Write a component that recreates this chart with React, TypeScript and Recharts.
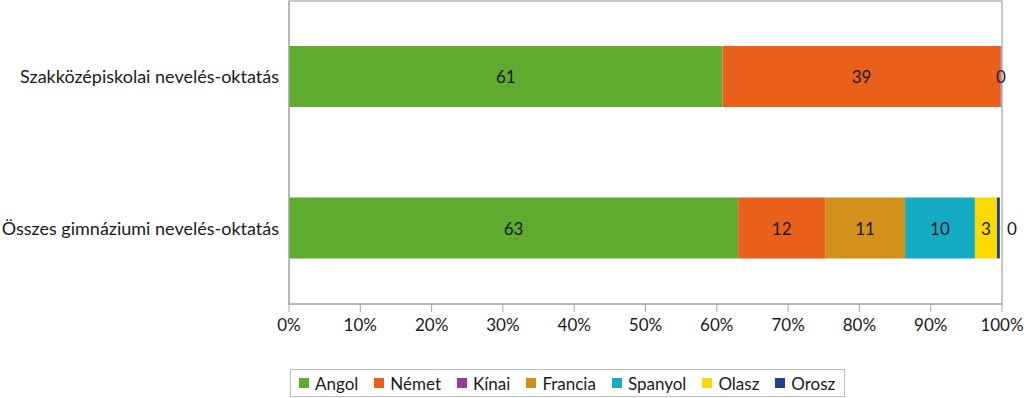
import React from "react";
import {
  BarChart,
  Bar,
  XAxis,
  YAxis,
  Legend,
  LabelList,
  ReferenceArea,
} from "recharts";

const categories = [
  "Szakközépiskolai nevelés-oktatás",
  "Összes gimnáziumi nevelés-oktatás",
];
const angol = [60.8, 63.0];
const nemet = [39.0, 12.2];
const kinai = [0.1, 0];
const francia = [0, 11.2];
const spanyol = [0, 9.8];
const olasz = [0, 3.1];
const orosz = [0, 0.4];
const xTicks = [0, 10, 20, 30, 40, 50, 60, 70, 80, 90, 100];

const series = [
  { key: "Angol", values: angol, color: "#5eab2f" },
  { key: "Német", values: nemet, color: "#e8601a" },
  { key: "Kínai", values: kinai, color: "#9c3c98" },
  { key: "Francia", values: francia, color: "#d1911a" },
  { key: "Spanyol", values: spanyol, color: "#14abc4" },
  { key: "Olasz", values: olasz, color: "#fcd900" },
  { key: "Orosz", values: orosz, color: "#213f91" },
];

const data = categories.map((name, i) => {
  const row: Record<string, string | number> = { name };
  series.forEach((s) => (row[s.key] = s.values[i]));
  return row;
});

const FONT = "Lato, 'Open Sans', sans-serif";

// címke a szegmens közepén; az orosz a sáv végén kívül
const makeLabel = (outside: boolean) => (props: any) => {
  const { x, y, width, height, value } = props;
  if (!value) return null;
  const cx = outside ? x + width + 12 : x + width / 2;
  return (
    <text
      x={cx}
      y={y + height / 2}
      textAnchor="middle"
      dominantBaseline="central"
      fontSize={17}
      fontFamily={FONT}
      fill="#1a1a1a"
    >
      {Math.round(value)}
    </text>
  );
};

const LegendBox = () => (
  <div
    style={{
      display: "flex",
      alignItems: "center",
      gap: 16,
      border: "1px solid #bdbdbd",
      height: 28,
      width: 555,
      boxSizing: "border-box",
      paddingLeft: 8,
      fontFamily: FONT,
      fontSize: 17,
      color: "#1a1a1a",
    }}
  >
    {series.map((s) => (
      <span key={s.key} style={{ display: "flex", alignItems: "center" }}>
        <span
          style={{
            width: 10,
            height: 10,
            background: s.color,
            display: "inline-block",
            marginRight: 6,
          }}
        />
        {s.key}
      </span>
    ))}
  </div>
);

export default function App() {
  return (
    <div style={{ position: "absolute", left: 0, top: 0, background: "#fff" }}>
      <BarChart
        width={1024}
        height={398}
        data={data}
        layout="vertical"
        margin={{ top: 1, right: 22, left: 0, bottom: 16 }}
      >
        <ReferenceArea
          x1={0}
          x2={100}
          stroke="#b5b5b5"
          strokeWidth={1.5}
          fill="none"
          fillOpacity={0}
        />
        <XAxis
          type="number"
          domain={[0, 100]}
          ticks={xTicks}
          tickFormatter={(v) => `${v}%`}
          tickSize={8}
          tickMargin={7}
          height={50}
          stroke="#a8a8a8"
          tick={{ fontSize: 17, fill: "#1a1a1a", fontFamily: FONT }}
          interval={0}
        />
        <YAxis
          type="category"
          dataKey="name"
          width={289}
          tickSize={0}
          tickMargin={10}
          axisLine={{ stroke: "#a8a8a8" }}
          tick={{ fontSize: 18, fill: "#1a1a1a", fontFamily: FONT }}
        />
        <Legend
          verticalAlign="bottom"
          width={555}
          height={28}
          wrapperStyle={{ left: 290, bottom: 1 }}
          content={() => <LegendBox />}
        />
        {series.map((s) => (
          <Bar
            key={s.key}
            dataKey={s.key}
            stackId="a"
            fill={s.color}
            barSize={61}
            isAnimationActive={false}
          >
            <LabelList
              dataKey={s.key}
              content={makeLabel(s.key === "Orosz")}
            />
          </Bar>
        ))}
      </BarChart>
    </div>
  );
}
